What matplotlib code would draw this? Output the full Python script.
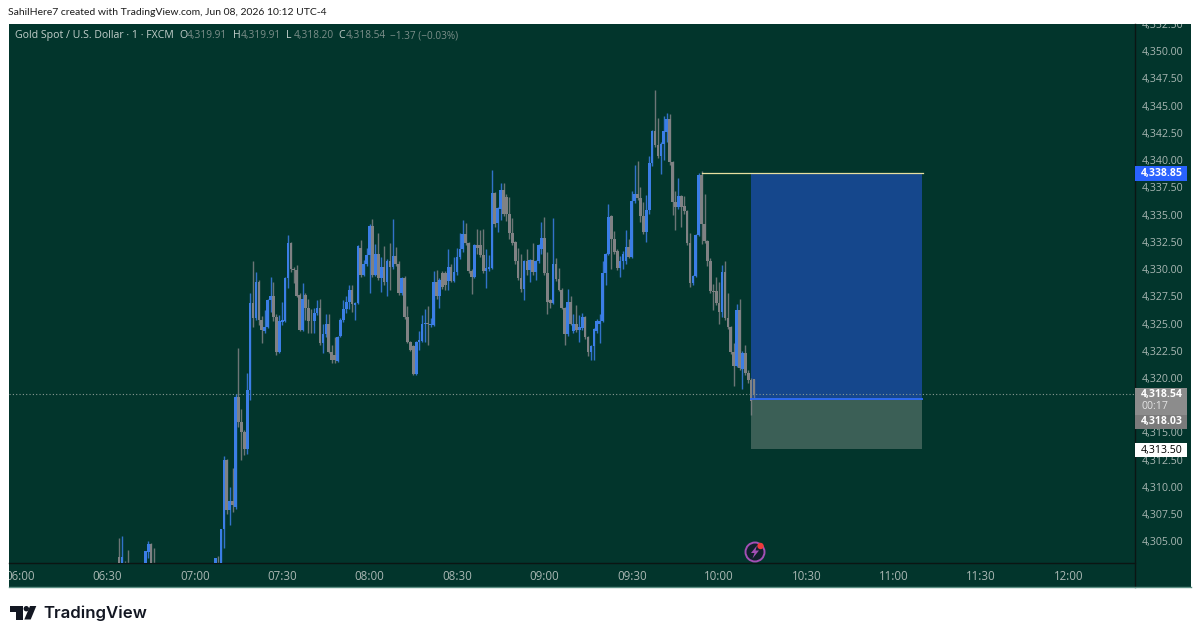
import numpy as np
import matplotlib
matplotlib.use('Agg')
import matplotlib.pyplot as plt
from matplotlib.patches import Rectangle, Polygon, Circle

plt.rcParams['font.family'] = ['Open Sans', 'DejaVu Sans']

# minutes after 06:00, bars between these are below the visible range
bar_minutes = [34, 35, 36, 37, 43, 44, 45, 46] + list(range(67, 253))

# prices minus 4300
price_base = 4300
opens = [3.6, 2.6, 2.5, 2.2, 2.4, 4.0, 4.8, 2.7, 2.5, 2.7,
    2.7, 6.1, 12.5, 7.9, 8.7, 8.2, 18.3, 16.0, 15.0, 13.5,
    18.9, 26.9, 25.5, 28.8, 25.3, 24.3, 24.7, 27.2, 27.5, 25.6,
    22.4, 25.1, 25.2, 29.2, 32.4, 30.0, 29.9, 27.6, 24.4, 27.6,
    26.4, 25.2, 25.2, 26.0, 26.4, 23.2, 24.0, 25.0, 22.4, 22.1,
    21.6, 23.9, 25.3, 26.3, 27.0, 28.1, 26.7, 26.9, 31.9, 29.5,
    30.5, 31.3, 34.0, 29.5, 31.4, 29.2, 30.2, 28.8, 30.7, 30.2,
    31.2, 30.5, 27.8, 29.2, 25.6, 23.3, 22.9, 20.4, 23.3, 23.4,
    25.0, 25.05, 24.9, 24.9, 28.8, 27.5, 29.6, 29.6, 28.9, 30.2,
    28.9, 29.7, 31.1, 31.8, 33.2, 32.4, 29.8, 29.3, 32.2, 32.2,
    31.3, 29.8, 30.0, 30.1, 37.0, 34.2, 35.5, 37.3, 36.6, 35.1,
    33.3, 32.5, 30.7, 29.2, 28.2, 30.7, 29.9, 30.8, 29.7, 30.7,
    31.8, 32.9, 29.6, 27.2, 26.9, 30.5, 29.1, 28.1, 26.4, 24.0,
    27.0, 24.3, 25.0, 24.4, 24.6, 25.6, 23.8, 22.4, 22.9, 24.3,
    25.0, 25.2, 29.6, 31.4, 34.9, 32.8, 31.7, 30.1, 30.7, 30.7,
    32.0, 31.1, 36.25, 36.9, 36.5, 34.9, 33.4, 35.4, 39.7, 42.7,
    41.4, 40.4, 41.5, 42.6, 43.8, 39.8, 36.2, 35.7, 36.7, 35.8,
    35.3, 32.4, 28.7, 29.4, 33.1, 38.6, 34.1, 32.6, 30.7, 28.0,
    28.0, 26.9, 26.1, 29.7, 25.5, 24.7, 22.4, 21.1, 26.2, 20.8,
    22.3, 20.5, 19.8, 19.91]
highs = [5.3, 5.5, 3.2, 4.2, 4.1, 5.0, 4.9, 4.4, 3.5, 3.7,
    6.1, 12.8, 12.6, 10.0, 11.7, 18.5, 22.8, 17.2, 15.2, 20.5,
    27.8, 30.7, 29.7, 29.0, 25.7, 26.2, 27.3, 29.3, 28.8, 25.9,
    25.8, 27.0, 29.3, 33.1, 32.5, 30.2, 30.4, 27.8, 28.7, 27.8,
    27.3, 26.3, 26.4, 27.2, 27.3, 25.0, 25.9, 25.9, 23.0, 23.8,
    23.9, 25.5, 27.2, 27.5, 28.5, 28.5, 27.0, 32.2, 32.7, 30.8,
    31.9, 34.1, 34.6, 32.3, 33.3, 31.1, 32.1, 30.9, 32.4, 34.6,
    32.0, 30.7, 29.3, 29.4, 26.6, 23.4, 23.0, 23.4, 24.3, 25.8,
    26.3, 26.6, 25.5, 29.8, 29.9, 29.2, 29.8, 29.8, 31.8, 30.5,
    31.1, 31.9, 33.3, 34.5, 34.2, 32.5, 30.0, 32.3, 33.7, 33.6,
    33.7, 31.8, 31.3, 39.1, 37.1, 35.7, 37.9, 37.9, 36.9, 36.6,
    34.7, 32.6, 31.9, 31.4, 30.8, 31.8, 30.9, 32.4, 30.8, 32.3,
    34.3, 34.8, 31.6, 27.3, 34.7, 31.0, 30.1, 28.3, 26.5, 28.2,
    27.5, 25.9, 26.7, 25.8, 26.0, 25.7, 23.9, 23.0, 24.6, 25.4,
    25.9, 30.7, 31.5, 36.0, 35.0, 33.5, 31.8, 31.2, 31.7, 33.6,
    32.8, 37.2, 39.6, 39.9, 37.5, 36.2, 36.8, 40.4, 42.8, 46.4,
    43.9, 41.7, 44.1, 44.3, 44.25, 39.9, 37.2, 38.4, 36.8, 36.7,
    35.4, 33.3, 29.5, 33.2, 38.85, 39.0, 36.9, 32.7, 31.0, 28.6,
    29.3, 28.8, 30.4, 30.7, 27.8, 24.8, 23.2, 26.8, 27.3, 22.5,
    23.0, 20.7, 20.0, 19.91]
lows = [2.4, 2.4, 2.0, 2.0, 2.3, 3.5, 2.4, 2.3, 2.4, 2.4,
    2.4, 4.4, 7.5, 6.5, 7.7, 8.0, 15.5, 12.5, 12.9, 13.0,
    18.0, 24.7, 25.3, 24.9, 23.2, 24.1, 24.6, 26.1, 25.2, 22.1,
    22.3, 24.9, 25.1, 28.3, 29.7, 28.7, 27.4, 24.3, 24.3, 25.3,
    24.1, 24.1, 24.1, 25.8, 23.0, 22.3, 23.8, 22.3, 21.4, 21.4,
    21.5, 23.8, 25.1, 26.0, 26.3, 26.1, 25.3, 26.8, 29.3, 29.4,
    30.3, 27.8, 29.3, 29.4, 29.0, 27.9, 28.5, 27.5, 28.1, 30.0,
    30.3, 27.6, 27.6, 25.4, 23.2, 22.5, 20.3, 20.3, 22.6, 23.3,
    23.3, 23.0, 24.7, 24.8, 27.3, 26.4, 28.2, 28.1, 28.1, 28.8,
    28.8, 29.5, 30.9, 31.6, 32.2, 29.6, 27.7, 29.2, 31.4, 31.1,
    29.6, 28.3, 29.8, 30.0, 33.9, 33.4, 34.5, 34.9, 34.4, 32.8,
    32.2, 30.5, 29.0, 27.9, 27.2, 29.5, 28.8, 29.5, 29.0, 30.6,
    31.4, 29.5, 25.9, 26.4, 26.8, 28.9, 28.0, 26.3, 23.0, 23.9,
    24.9, 24.1, 24.2, 23.3, 24.4, 23.6, 22.0, 21.7, 21.7, 24.1,
    23.2, 25.1, 28.5, 31.3, 30.0, 31.4, 29.9, 29.3, 30.0, 30.5,
    31.0, 31.0, 36.1, 36.3, 34.3, 33.2, 32.5, 35.1, 39.5, 41.2,
    40.2, 38.7, 40.0, 41.7, 39.6, 35.0, 33.6, 35.5, 33.9, 35.1,
    32.2, 28.4, 28.5, 29.3, 33.0, 32.3, 32.4, 30.3, 27.8, 26.2,
    26.7, 25.0, 25.6, 25.3, 24.5, 22.2, 19.3, 21.0, 20.7, 19.0,
    20.3, 19.5, 16.6, 18.2]
closes = [2.6, 3.6, 2.4, 2.1, 4.1, 4.8, 2.6, 2.5, 3.5, 2.6,
    6.1, 12.5, 7.9, 8.7, 8.3, 18.3, 16.0, 15.0, 13.5, 18.9,
    26.9, 25.5, 28.8, 25.3, 24.4, 24.7, 27.2, 27.5, 25.6, 22.4,
    25.2, 25.3, 29.2, 32.4, 30.0, 29.9, 27.5, 24.4, 27.3, 26.4,
    25.2, 25.2, 26.0, 26.4, 23.2, 24.0, 25.0, 22.4, 21.7, 21.7,
    23.8, 25.3, 26.3, 27.0, 28.1, 26.8, 26.9, 32.1, 29.5, 30.5,
    31.3, 34.0, 29.5, 31.4, 29.2, 30.2, 28.8, 30.7, 30.2, 31.2,
    30.5, 27.8, 29.2, 25.6, 23.3, 22.6, 20.4, 23.3, 23.5, 25.0,
    25.03, 25.0, 25.0, 28.8, 27.5, 29.0, 28.4, 28.5, 30.2, 28.9,
    29.7, 31.1, 31.8, 33.2, 32.4, 29.8, 29.3, 32.2, 31.9, 31.3,
    29.8, 30.1, 30.2, 37.0, 34.1, 35.6, 37.3, 35.1, 35.1, 33.3,
    32.4, 30.7, 29.2, 28.2, 30.7, 29.9, 30.8, 29.7, 30.7, 32.2,
    32.9, 29.6, 27.0, 26.9, 30.5, 29.1, 28.1, 26.4, 24.0, 27.0,
    25.0, 25.0, 24.4, 24.7, 25.6, 23.8, 22.4, 22.9, 24.5, 25.2,
    25.2, 29.6, 31.4, 34.8, 32.8, 31.6, 30.1, 30.7, 31.4, 32.0,
    31.1, 36.25, 36.9, 36.5, 34.9, 33.4, 35.4, 39.7, 42.7, 41.4,
    40.4, 41.5, 42.7, 43.8, 39.8, 36.2, 35.7, 36.7, 35.7, 35.3,
    32.4, 28.7, 29.4, 33.1, 38.6, 34.1, 32.6, 30.7, 28.0, 27.9,
    26.9, 26.1, 29.7, 25.5, 24.7, 22.4, 21.1, 26.2, 20.9, 22.3,
    20.5, 19.8, 17.9, 18.54]

price_ticks = [4305, 4307.5, 4310, 4312.5, 4315, 4320, 4322.5, 4325, 4327.5, 4330, 4332.5, 4335,
               4337.5, 4340, 4342.5, 4345, 4347.5, 4350, 4352.5]
time_ticks = [0, 30, 60, 90, 120, 150, 180, 210, 240, 270, 300, 330, 360]
time_labels = ['06:00', '06:30', '07:00', '07:30', '08:00', '08:30', '09:00', '09:30', '10:00',
               '10:30', '11:00', '11:30', '12:00']

target_price = 4338.85
last_price = 4318.54
entry_price = 4318.03
stop_price = 4313.50
countdown = '00:17'
box_start = 251
box_end = 309.5
line_start = 234

bg = '#02352c'
blue = '#3b7ee6'
grey = '#808284'
W, H = 1200, 639

fig = plt.figure(figsize=(12, 6.39), dpi=100, facecolor='white')

# pixel canvas behind and in front of the chart, for frame, header and logo
back = fig.add_axes([0, 0, 1, 1], zorder=0)
back.set_xlim(0, W)
back.set_ylim(H, 0)
back.axis('off')
panel = Rectangle((9, 23.5), 1182, 563.5, facecolor=bg, edgecolor='none')
back.add_patch(panel)
back.plot([1134.5, 1134.5], [23.5, 587], color='#0b1513', lw=1)
back.plot([9, 1191], [587, 587], color='#5d8f84', lw=1)

ax = fig.add_axes([9 / W, 1 - 563 / H, 1125.5 / W, 539 / H], zorder=1)
ax.patch.set_alpha(0)
ax.set_xlim(-3.78, 382.6)
ax.set_ylim(4303.02, 4352.43)
for s in ['top', 'left', 'right']:
    ax.spines[s].set_visible(False)
ax.spines['bottom'].set_color('#0b1513')
ax.spines['bottom'].set_linewidth(1)

m = np.array(bar_minutes)
o = np.array(opens) + price_base
h = np.array(highs) + price_base
l = np.array(lows) + price_base
c = np.array(closes) + price_base
colors = [blue if cc > oo else grey for oo, cc in zip(o, c)]

ax.vlines(m, l, h, colors=colors, lw=1.0, alpha=0.85, zorder=2)
ax.bar(m, np.maximum(np.abs(c - o), 0.08), bottom=np.minimum(o, c), width=0.92, color=colors, zorder=3)

# long position tool
ax.add_patch(Rectangle((box_start, entry_price), box_end - box_start, target_price - entry_price,
                       facecolor='#15478c', edgecolor='none', zorder=1.5))
ax.add_patch(Rectangle((box_start, stop_price), box_end - box_start, entry_price - stop_price,
                       facecolor='#3b5f56', edgecolor='none', zorder=1.5))
ax.plot([box_start, box_end], [entry_price, entry_price], color='#2f6bf0', lw=1.4, zorder=4)
ax.plot([line_start, box_end + 0.4], [target_price, target_price], color='#e8dfa0', lw=0.9, zorder=4)
ax.axhline(last_price, color='#8a9a94', lw=0.8, ls=(0, (1, 2)), zorder=1.8)

ax.set_xticks(time_ticks)
ax.set_xticklabels(time_labels)
ax.set_yticks(price_ticks)
ax.set_yticklabels([f'{p:,.2f}' for p in price_ticks])
ax.yaxis.tick_right()
ax.tick_params(axis='x', length=0, pad=5, labelsize=8.3, labelcolor='#a9b7b3')
ax.tick_params(axis='y', length=0, pad=5.5, labelsize=7.6, labelcolor='#a9b7b3')
for lab in ax.get_xticklabels() + ax.get_yticklabels():
    lab.set_clip_box(panel.get_window_extent())
    lab.set_clip_on(True)

# top layer in pixels: header, legend, price tags, badge, logo
top = fig.add_axes([0, 0, 1, 1], zorder=2)
top.set_xlim(0, W)
top.set_ylim(H, 0)
top.axis('off')
top.patch.set_alpha(0)

# price tags on the scale
top.add_patch(Rectangle((1135, 166), 51.5, 15, facecolor='#2962ff', edgecolor='none'))
top.text(1162, 173.5, f'{target_price:,.2f}', color='white', fontsize=7.6, fontweight='bold',
         ha='center', va='center')
top.add_patch(Rectangle((1135, 388), 51.5, 27, facecolor='#8c8c8c', edgecolor='none'))
top.add_patch(Rectangle((1135, 415), 51.5, 14, facecolor='#7b7b7b', edgecolor='none'))
top.text(1162, 394.3, f'{last_price:,.2f}', color='white', fontsize=7.6, fontweight='bold',
         ha='center', va='center')
top.text(1142, 406.8, countdown, color='#e4e4e4', fontsize=7.6, ha='left', va='center')
top.text(1162, 421.7, f'{entry_price:,.2f}', color='white', fontsize=7.6, fontweight='bold',
         ha='center', va='center')
top.add_patch(Rectangle((1135, 443), 51.5, 14, facecolor='white', edgecolor='none'))
top.text(1162, 450, f'{stop_price:,.2f}', color='black', fontsize=7.6, ha='center', va='center')

top.text(8, 12.5, 'SahilHere7 created with TradingView.com, Jun 08, 2026 10:12 UTC-4', color='#1c1c1c',
         fontsize=7.5, family='Lato', va='center', ha='left')
top.text(15, 35.5, 'Gold Spot / U.S. Dollar · 1 · FXCM', color='#c3cfcb', fontsize=7.6, va='center')
legend_items = [(179, 'O', '4,319.91'), (233, 'H', '4,319.91'), (286, 'L', '4,318.20'), (338, 'C', '4,318.54')]
for x, k, v in legend_items:
    top.text(x, 35.5, k, color='#c3cfcb', fontsize=7.6, va='center')
    top.text(x + 8, 35.5, v, color='#7c8f8a', fontsize=7.3, va='center')
top.text(390, 35.5, '−1.37 (−0.03%)', color='#7c8f8a', fontsize=7.2, va='center')

top.add_patch(Circle((755, 552), 9.5, facecolor='#10202b', edgecolor='#a34fb5', lw=1.4))
top.add_patch(Polygon([(757, 545.5), (751, 553), (754.5, 553), (752.5, 558.5), (759, 550.5), (755.5, 550.5)],
                      facecolor='#a34fb5', edgecolor='none'))
top.add_patch(Circle((760.5, 546), 3.2, facecolor='#ee3b3b', edgecolor='none'))

top.add_patch(Polygon([(10, 606), (23, 606), (23, 619.5), (15.5, 619.5), (15.5, 612), (10, 612)],
                      facecolor='#131722', edgecolor='none'))
top.add_patch(Circle((26.3, 608.7), 2.7, facecolor='#131722', edgecolor='none'))
top.add_patch(Polygon([(30, 606), (36.3, 606), (30.7, 619.5), (24.3, 619.5)],
                      facecolor='#131722', edgecolor='none'))
top.text(43, 613, 'TradingView', color='#131722', fontsize=12.1, family='Inter', fontweight='semibold',
         va='center', ha='left')

fig.savefig('out.png', dpi=100)
